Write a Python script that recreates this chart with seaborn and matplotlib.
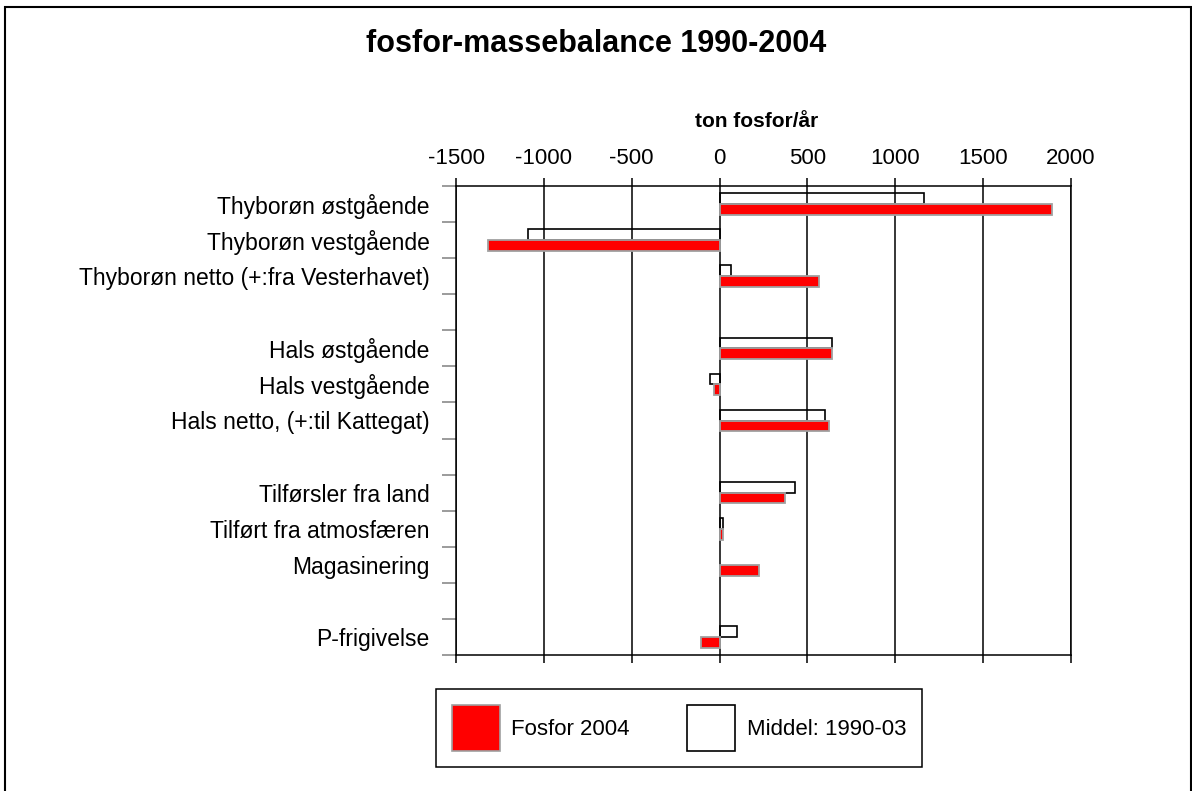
import numpy as np
import pandas as pd
import matplotlib
matplotlib.use("Agg")
import matplotlib.pyplot as plt
from matplotlib.patches import Patch, Rectangle
import seaborn as sns

# ---- data ----
row_order = [
    "Thyborøn østgående", "Thyborøn vestgående", "Thyborøn netto (+:fra Vesterhavet)", " ",
    "Hals østgående", "Hals vestgående", "Hals netto, (+:til Kattegat)", "  ",
    "Tilførsler fra land", "Tilført fra atmosfæren", "Magasinering", "   ",
    "P-frigivelse",
]
categories = [
    "Thyborøn østgående", "Thyborøn vestgående", "Thyborøn netto (+:fra Vesterhavet)",
    "Hals østgående", "Hals vestgående", "Hals netto, (+:til Kattegat)",
    "Tilførsler fra land", "Tilført fra atmosfæren", "Magasinering", "P-frigivelse",
]
fosfor_2004 = [1890, -1320, 564, 637, -30, 620, 374, 17, 226, -106]
middel_1990_03 = [1164, -1090, 66, 642, -54, 600, 428, 22, None, 98]
series_names = ["Middel: 1990-03", "Fosfor 2004"]
x_ticks = [-1500, -1000, -500, 0, 500, 1000, 1500, 2000]

df = pd.concat([
    pd.DataFrame({"kategori": categories, "serie": series_names[0], "værdi": middel_1990_03}),
    pd.DataFrame({"kategori": categories, "serie": series_names[1], "værdi": fosfor_2004}),
]).dropna()

# ---- style ----
sns.set_style("white")
plt.rcParams["font.family"] = ["Liberation Sans", "DejaVu Sans"]
plt.rcParams["text.color"] = "black"
plt.rcParams["axes.labelcolor"] = "black"
plt.rcParams["xtick.color"] = "black"
plt.rcParams["ytick.color"] = "black"

fig = plt.figure(figsize=(11.92, 7.91), dpi=100)
ax = fig.add_axes([456 / 1192, 1 - 655 / 791, (1071 - 456) / 1192, (655 - 186) / 791])

palette = {"Middel: 1990-03": "white", "Fosfor 2004": "#FF0000"}
sns.barplot(data=df, x="værdi", y="kategori", hue="serie", order=row_order,
            hue_order=series_names, palette=palette, orient="h", width=0.6,
            dodge=True, ax=ax, legend=False, saturation=1)

# bar styling
for cont, name in zip(ax.containers, series_names):
    for p in cont:
        if name == "Fosfor 2004":
            p.set_edgecolor("#A0A0A0")
            p.set_linewidth(1.3)
            p.set_zorder(3)
        else:
            p.set_facecolor("none")
            p.set_edgecolor("black")
            p.set_linewidth(1.2)
            p.set_zorder(3)

ax.set_xlim(-1500, 2000)
ax.set_xticks(x_ticks)
ax.set_xticklabels([str(t) for t in x_ticks])
ax.xaxis.tick_top()
ax.xaxis.set_label_position("top")
ax.tick_params(axis="x", which="major", top=True, bottom=True, labeltop=True,
               labelbottom=False, length=6, width=1.1, color="black",
               direction="out", labelsize=16, labelcolor="black", pad=6)
ax.set_xlabel("ton fosfor/år", fontsize=15, fontweight="bold", va="baseline", color="black")
ax.xaxis.set_label_coords((757 - 456) / 615, (655 - 127) / 469)

ax.grid(axis="x", color="black", linewidth=1.1, zorder=1)
ax.set_axisbelow(True)
ax.set_ylabel("")

# y ticks: labels at row centres, gray marks at row boundaries
n = len(row_order)
ax.set_ylim(n - 0.5, -0.5)
ax.set_yticks(np.arange(n))
ax.set_yticklabels(row_order)
ax.set_yticks(np.arange(n + 1) - 0.5, minor=True)
ax.tick_params(axis="y", which="major", length=0, labelsize=16.5, labelcolor="black", pad=19)
ax.tick_params(axis="y", which="minor", length=10, width=1.1, color="#808080",
               direction="out", left=True)

for s in ax.spines.values():
    s.set_color("black")
    s.set_linewidth(1.1)

fig.text(0.5, 1 - 52 / 791, "fosfor-massebalance 1990-2004", ha="center",
         va="baseline", fontsize=22, fontweight="bold", color="black")

handles = [Patch(facecolor="#FF0000", edgecolor="#A0A0A0", linewidth=1.2, label="Fosfor 2004"),
           Patch(facecolor="white", edgecolor="black", linewidth=1.2, label="Middel: 1990-03")]
leg = fig.legend(handles=handles, loc="center", bbox_to_anchor=(679 / 1192, 1 - 728 / 791),
                 bbox_transform=fig.transFigure, ncol=2, fontsize=16, frameon=True,
                 fancybox=False, shadow=False, handlelength=2.16, handleheight=2.81,
                 handletextpad=0.5, columnspacing=2.6, borderpad=0.7, labelcolor="black")
leg.get_frame().set_edgecolor("black")
leg.get_frame().set_linewidth(1.1)
leg.get_frame().set_alpha(1)

fig.patches.append(Rectangle((5 / 1192, -0.02), (1190.5 - 5) / 1192, 1 - 7 / 791 + 0.02,
                             transform=fig.transFigure, fill=False, edgecolor="black",
                             linewidth=1.5, clip_on=False))

fig.savefig("out.png", dpi=100)
